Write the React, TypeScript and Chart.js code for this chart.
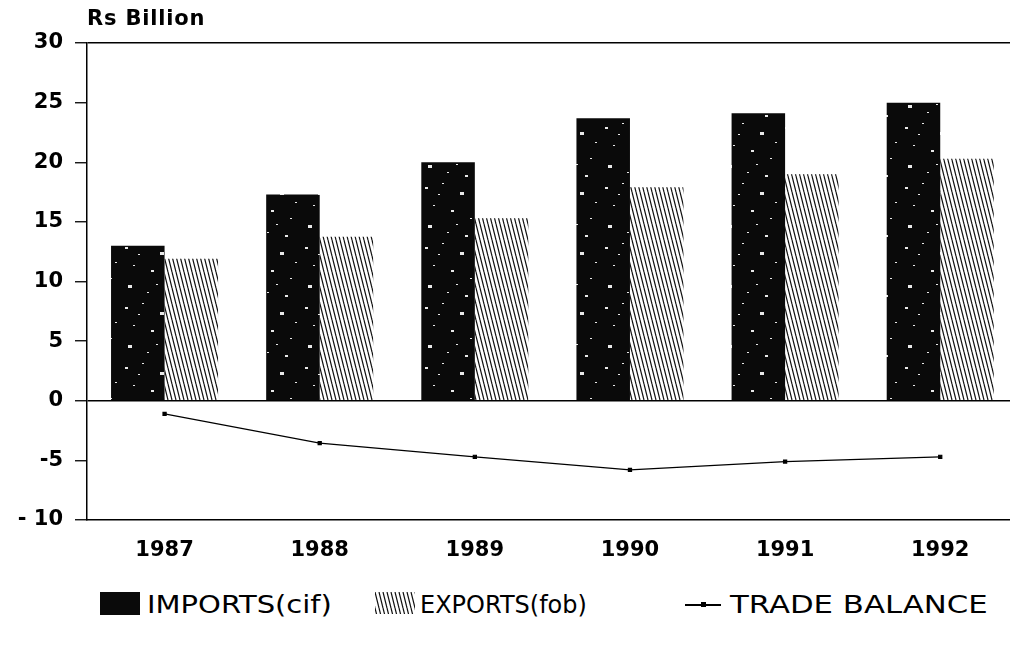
import React, { useEffect, useRef } from "react";
import { Chart, registerables } from "chart.js";

Chart.register(...registerables);

const YEARS = ["1987", "1988", "1989", "1990", "1991", "1992"];
const IMPORTS = [13.0, 17.3, 20.0, 23.7, 24.1, 25.0];
const EXPORTS = [11.9, 13.75, 15.3, 17.9, 19.0, 20.3];
const TRADE_BALANCE = [-1.1, -3.55, -4.7, -5.8, -5.1, -4.7];
const Y_MIN = -10;
const Y_MAX = 30;
const Y_STEP = 5;

const SPECKS: [number, number, number][] = [
  [5, 7, 2], [22, 3, 1], [40, 12, 3], [13, 25, 1], [31, 30, 2], [50, 38, 1],
  [8, 45, 3], [27, 52, 1], [45, 55, 2], [18, 14, 1], [55, 22, 1], [36, 44, 1],
];

function makeImportsPattern(ctx: CanvasRenderingContext2D) {
  const c = document.createElement("canvas");
  c.width = 60;
  c.height = 60;
  const g = c.getContext("2d")!;
  g.fillStyle = "#0a0a0a";
  g.fillRect(0, 0, 60, 60);
  g.fillStyle = "#e8e8e8";
  SPECKS.forEach(([x, y, r]) => {
    g.fillRect(x, y, r + 1, r);
  });
  return ctx.createPattern(c, "repeat")!;
}

function makeExportsPattern(ctx: CanvasRenderingContext2D) {
  const c = document.createElement("canvas");
  c.width = 4;
  c.height = 16;
  const g = c.getContext("2d")!;
  g.fillStyle = "#ffffff";
  g.fillRect(0, 0, 4, 16);
  g.strokeStyle = "#111";
  g.lineWidth = 1.2;
  for (let x = -4; x <= 4; x += 4) {
    g.beginPath();
    g.moveTo(x, 0);
    g.lineTo(x + 4, 16);
    g.stroke();
  }
  return ctx.createPattern(c, "repeat")!;
}

export default function App() {
  const ref = useRef<HTMLCanvasElement>(null);
  const legendExp = useRef<HTMLCanvasElement>(null);

  useEffect(() => {
    const canvas = ref.current!;
    const ctx = canvas.getContext("2d")!;
    const impPat = makeImportsPattern(ctx);
    const expPat = makeExportsPattern(ctx);

    if (legendExp.current) {
      const lc = legendExp.current.getContext("2d")!;
      lc.fillStyle = makeExportsPattern(lc);
      lc.fillRect(0, 0, 40, 22);
    }

    const chart = new Chart(canvas, {
      type: "bar",
      data: {
        labels: YEARS,
        datasets: [
          {
            type: "line",
            label: "TRADE BALANCE",
            data: TRADE_BALANCE,
            borderColor: "#000",
            backgroundColor: "#000",
            borderWidth: 1.2,
            pointRadius: 2.2,
            pointStyle: "rect",
            tension: 0,
            order: 0,
          } as any,
          {
            label: "IMPORTS(cif)",
            data: IMPORTS,
            backgroundColor: impPat,
            borderWidth: 0,
            order: 1,
          },
          {
            label: "EXPORTS(fob)",
            data: EXPORTS,
            backgroundColor: expPat,
            borderColor: "#000",
            borderWidth: 0,
            order: 1,
          },
        ],
      },
      options: {
        responsive: false,
        animation: false,
        events: [],
        layout: { padding: { top: 43, right: 0, left: 0, bottom: 0 } },
        datasets: {
          bar: { categoryPercentage: 0.69, barPercentage: 1.0 },
        },
        plugins: {
          legend: { display: false },
          tooltip: { enabled: false },
          title: { display: false },
        },
        scales: {
          x: {
            offset: true,
            grid: { display: false },
            border: { display: true, color: "#000", width: 1.5 },
            ticks: {
              color: "#000",
              padding: 10,
              font: { family: "'DejaVu Sans'", size: 21, weight: "bold" },
            },
            afterFit: (s: any) => {
              s.height = 60;
            },
          },
          y: {
            min: Y_MIN,
            max: Y_MAX,
            grid: {
              display: true,
              drawOnChartArea: true,
              color: (c: any) =>
                c.tick && (c.tick.value === 0 || c.tick.value === Y_MAX) ? "#000" : "rgba(0,0,0,0)",
              lineWidth: 1.5,
              tickColor: "#000",
              tickLength: 12,
              tickWidth: 1.3,
            },
            border: { display: true, color: "#000", width: 1.5 },
            ticks: {
              stepSize: Y_STEP,
              color: "#000",
              padding: 12,
              font: { family: "'DejaVu Sans'", size: 21, weight: "bold" },
              callback: (v: any) => {
                const n = Number(v);
                if (n >= 0) return String(n);
                const a = String(Math.abs(n));
                return a.length > 1 ? "- " + a : "-" + a;
              },
            },
            afterFit: (s: any) => {
              s.width = 87;
            },
          },
        },
      },
    });
    return () => chart.destroy();
  }, []);

  const legendText: React.CSSProperties = {
    position: "absolute",
    top: 590,
    fontFamily: "'DejaVu Sans', sans-serif",
    fontSize: 25,
    color: "#000",
    whiteSpace: "nowrap",
    transformOrigin: "left center",
  };

  return (
    <div
      style={{
        position: "fixed",
        left: 0,
        top: 0,
        width: 1010,
        height: 652,
        overflow: "hidden",
        background: "#fff",
      }}
    >
      <canvas
        ref={ref}
        width={1023}
        height={580}
        style={{ position: "absolute", left: 0, top: 0, width: 1023, height: 580 }}
      />
      <div
        style={{
          position: "absolute",
          left: 87,
          top: 6,
          fontFamily: "'DejaVu Sans', sans-serif",
          fontWeight: "bold",
          fontSize: 21,
          letterSpacing: "0.8px",
          color: "#000",
          whiteSpace: "nowrap",
        }}
      >
        Rs Billion
      </div>
      <div style={{ position: "absolute", left: 100, top: 592, width: 40, height: 23, background: "#0a0a0a" }} />
      <div style={{ ...legendText, left: 147, transform: "scaleX(1.16)" }}>IMPORTS(cif)</div>
      <canvas
        ref={legendExp}
        width={40}
        height={22}
        style={{ position: "absolute", left: 375, top: 592, width: 40, height: 22 }}
      />
      <div style={{ ...legendText, left: 420, transform: "scaleX(0.96)" }}>EXPORTS(fob)</div>
      <div style={{ position: "absolute", left: 685, top: 604, width: 36, height: 1.5, background: "#000" }} />
      <div style={{ position: "absolute", left: 701, top: 602, width: 5, height: 5, background: "#000" }} />
      <div style={{ ...legendText, left: 730, transform: "scaleX(1.23)" }}>TRADE BALANCE</div>
    </div>
  );
}
